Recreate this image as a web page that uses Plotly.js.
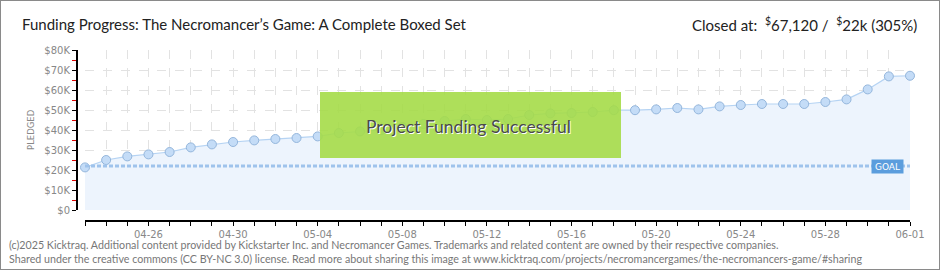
<!DOCTYPE html>
<html>
<head>
<meta charset="utf-8">
<script src="https://cdn.plot.ly/plotly-3.0.1.min.js"></script>
<style>html,body{margin:0;padding:0;background:#fff;}#chart{width:940px;height:270px;}</style>
</head>
<body>
<div id="chart"></div>
<script>
const dates = [
  '2025-04-23','2025-04-24','2025-04-25','2025-04-26','2025-04-27','2025-04-28','2025-04-29','2025-04-30',
  '2025-05-01','2025-05-02','2025-05-03','2025-05-04','2025-05-05','2025-05-06','2025-05-07','2025-05-08',
  '2025-05-09','2025-05-10','2025-05-11','2025-05-12','2025-05-13','2025-05-14','2025-05-15','2025-05-16',
  '2025-05-17','2025-05-18','2025-05-19','2025-05-20','2025-05-21','2025-05-22','2025-05-23','2025-05-24',
  '2025-05-25','2025-05-26','2025-05-27','2025-05-28','2025-05-29','2025-05-30','2025-05-31','2025-06-01'
];
const pledged = [
  21300, 25000, 26800, 27800, 29000, 31300, 32800, 34000,
  34800, 35500, 36000, 36800, 38500, 39300, 40000, 41500,
  43000, 44500, 45500, 45000, 45500, 47500, 48300, 48500,
  49000, 49900, 49900, 50300, 51000, 50300, 51800, 52500,
  53000, 53000, 53000, 54000, 55300, 60300, 66800, 67120
];
const goal = 22000;
const yTickVals = [0, 10000, 20000, 30000, 40000, 50000, 60000, 70000, 80000];
const yTickLabels = ['$0', '$10K', '$20K', '$30K', '$40K', '$50K', '$60K', '$70K', '$80K'];
const yMinorVals = [5000, 15000, 25000, 35000, 45000, 55000, 65000, 75000];
const titleText = 'Funding Progress: The Necromancer\u2019s Game: A Complete Boxed Set';
const closedText = 'Closed at:  <sup>$</sup>67,120 /  <sup>$</sup>22k (305%)';
const successText = 'Project Funding Successful';
const footer1 = '(c)2025 Kicktraq. Additional content provided by Kickstarter Inc. and Necromancer Games. Trademarks and related content are owned by their respective companies.';
const footer2 = 'Shared under the creative commons (CC BY-NC 3.0) license. Read more about sharing this image at www.kicktraq.com/projects/necromancergames/the-necromancers-game/#sharing';

const W = 940, H = 270;
const px = v => v / W;
const py = v => 1 - v / H;
const txtFont = 'Lato, "Liberation Sans", sans-serif';
const DAY = 86400000;

const trace = {
  x: dates, y: pledged, type: 'scatter', mode: 'lines+markers',
  fill: 'tozeroy', fillcolor: '#edf4fd',
  line: {color: '#b5d3f3', width: 1.2},
  marker: {size: 9, color: '#c4dcf7', line: {color: '#94b6dc', width: 1}},
  cliponaxis: false, hoverinfo: 'skip'
};
// invisible trace binding the overlay axis that carries the red minor ticks
const tickHolder = {
  x: [dates[0]], y: [0], xaxis: 'x', yaxis: 'y2', type: 'scatter', mode: 'markers',
  marker: {opacity: 0}, hoverinfo: 'skip', showlegend: false
};

const yDomain = [1 - 210 / H, 1 - 50 / H];

const layout = {
  width: W, height: H,
  margin: {l: 0, r: 0, t: 0, b: 0, autoexpand: false},
  paper_bgcolor: '#fff', plot_bgcolor: 'rgba(0,0,0,0)',
  showlegend: false,
  xaxis: {
    type: 'date', domain: [px(85), px(910)], range: [dates[0], dates[dates.length - 1]],
    anchor: 'free', position: py(220), automargin: false,
    showline: true, linecolor: '#000', linewidth: 1.5,
    ticks: 'outside', ticklen: 4, tickcolor: '#000', tickwidth: 1,
    tick0: '2025-04-26', dtick: 4 * DAY, tickformat: '%m-%d',
    tickfont: {family: 'DejaVu Sans', size: 10, color: '#888'},
    showgrid: true, gridcolor: '#e2e2e2', griddash: 'dash', gridwidth: 1,
    zeroline: false,
    minor: {dtick: DAY, ticks: 'outside', ticklen: 4, tickcolor: '#000', tickwidth: 1,
            showgrid: true, gridcolor: '#e2e2e2', griddash: 'dash', gridwidth: 1}
  },
  yaxis: {
    domain: yDomain, range: [0, 80000],
    anchor: 'free', position: px(76), automargin: false,
    showline: true, linecolor: '#000', linewidth: 1.5,
    ticks: 'outside', ticklen: 4, tickcolor: '#000', tickwidth: 1,
    tickmode: 'array', tickvals: yTickVals, ticktext: yTickLabels,
    tickfont: {family: 'DejaVu Sans', size: 10, color: '#888'},
    showgrid: true, gridcolor: '#e2e2e2', griddash: 'dash', gridwidth: 1,
    zeroline: false
  },
  yaxis2: {
    domain: yDomain, range: [0, 80000], overlaying: 'y',
    anchor: 'free', position: px(76), side: 'left', automargin: false,
    showline: false, showgrid: false, zeroline: false, showticklabels: false,
    ticks: 'outside', ticklen: 4, tickcolor: '#e00000', tickwidth: 1,
    tickmode: 'array', tickvals: yMinorVals
  },
  shapes: [
    {type: 'line', xref: 'x', yref: 'y', x0: dates[0], x1: dates[dates.length - 1], y0: goal, y1: goal,
     line: {color: '#9fc3ec', width: 3, dash: '4px,2px'}, layer: 'above'},
    {type: 'rect', xref: 'paper', yref: 'paper', x0: px(320), x1: px(621), y0: py(158), y1: py(92),
     fillcolor: '#a5db48', opacity: 0.9, line: {width: 0}, layer: 'above'},
    {type: 'rect', xref: 'paper', yref: 'paper', x0: 0, x1: 1, y0: 0, y1: 1,
     line: {color: '#8a8a8a', width: 2}, layer: 'above'}
  ],
  annotations: [
    {text: titleText, xref: 'paper', yref: 'paper', x: px(20), y: py(24), xanchor: 'left', yanchor: 'middle',
     showarrow: false, font: {family: txtFont, size: 15, color: '#222'}},
    {text: closedText, xref: 'paper', yref: 'paper', x: px(919), y: py(24), xanchor: 'right', yanchor: 'middle',
     showarrow: false, font: {family: txtFont, size: 15, color: '#222'}},
    {text: 'PLEDGED', xref: 'paper', yref: 'paper', x: px(31), y: py(130), textangle: -90,
     xanchor: 'center', yanchor: 'middle', showarrow: false,
     font: {family: 'DejaVu Sans', size: 8.5, color: '#888'}},
    {text: successText, xref: 'paper', yref: 'paper', x: px(468), y: py(126), xanchor: 'center', yanchor: 'middle',
     showarrow: false, font: {family: txtFont, size: 17.5, color: '#4a4a4a', shadow: '1px 1px 0px #fff'}},
    {text: 'GOAL', xref: 'paper', yref: 'paper', x: px(887.5), y: py(166.5), xanchor: 'center', yanchor: 'middle',
     showarrow: false, bgcolor: '#5b9ddd', width: 29, height: 11, borderpad: 1,
     font: {family: 'DejaVu Sans', size: 9, color: '#fff'}},
    {text: footer1, xref: 'paper', yref: 'paper', x: px(7), y: py(244), xanchor: 'left', yanchor: 'middle',
     showarrow: false, font: {family: txtFont, size: 10.7, color: '#777'}},
    {text: footer2, xref: 'paper', yref: 'paper', x: px(7), y: py(258), xanchor: 'left', yanchor: 'middle',
     showarrow: false, font: {family: txtFont, size: 10.7, color: '#777'}}
  ]
};

Plotly.newPlot('chart', [trace, tickHolder], layout, {displayModeBar: false, staticPlot: true});
</script>
</body>
</html>
